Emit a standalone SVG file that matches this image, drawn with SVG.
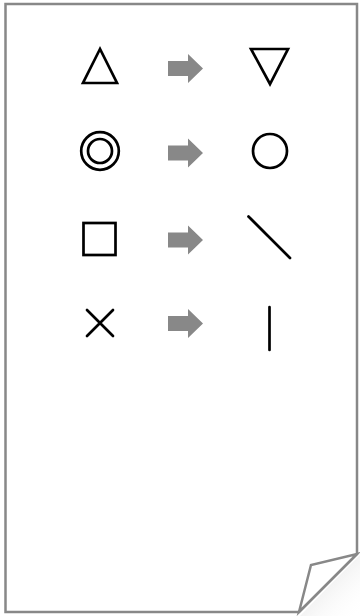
<svg xmlns="http://www.w3.org/2000/svg" width="360" height="616" viewBox="0 0 360 616">
<style>
.page{fill:#fff;stroke:#888;stroke-width:2.5;stroke-linejoin:miter}
.sym{fill:none;stroke:#000;stroke-width:2.7}
.arr{fill:#888}
</style>
<defs>
<path id="arrow" d="M0,-7.5 L20,-7.5 L20,-14.5 L35,0 L20,14.5 L20,7.5 L0,7.5 Z"/>
<linearGradient id="sh" x1="0" y1="0" x2="1" y2="1">
<stop offset="0" stop-color="#ccc" stop-opacity="0.9"/>
<stop offset="1" stop-color="#fff" stop-opacity="0"/>
</linearGradient>
</defs>
<g id="page">
<path d="M330,585 L360,555 L360,616 L300,616 Z" fill="url(#sh)"/>
<path class="page" d="M5.5,4 L357,4 L357,554 L299,612 L5.5,612 Z"/>
<path class="page" d="M299,612 L311,565 L357,554 Z"/>
</g>
<g id="row1">
<polygon id="triangle" class="sym" points="100,49 83,83 117,83"/>
<polygon id="triangle-down" class="sym" points="251,49 288,49 270,84"/>
</g>
<g id="row2">
<g id="double-circle"><circle class="sym" cx="100" cy="151" r="18.8"/><circle class="sym" cx="100" cy="151" r="12"/></g>
<circle id="circle" class="sym" cx="270" cy="151" r="17"/>
</g>
<g id="row3">
<rect id="square" class="sym" x="83.5" y="223" width="32" height="32"/>
<line id="diagonal" class="sym" stroke-linecap="round" x1="248.5" y1="216.5" x2="290" y2="258"/>
</g>
<g id="row4">
<path id="cross" class="sym" stroke-linecap="round" d="M87,310 L113,336 M113,310 L87,336"/>
<line id="vertical" class="sym" stroke-linecap="round" x1="269.5" y1="307" x2="269.5" y2="350"/>
</g>
<g id="connectors">
<use href="#arrow" class="arr" x="168" y="68.5"/>
<use href="#arrow" class="arr" x="168" y="153"/>
<use href="#arrow" class="arr" x="168" y="240"/>
<use href="#arrow" class="arr" x="168" y="323.5"/>
</g>
</svg>
